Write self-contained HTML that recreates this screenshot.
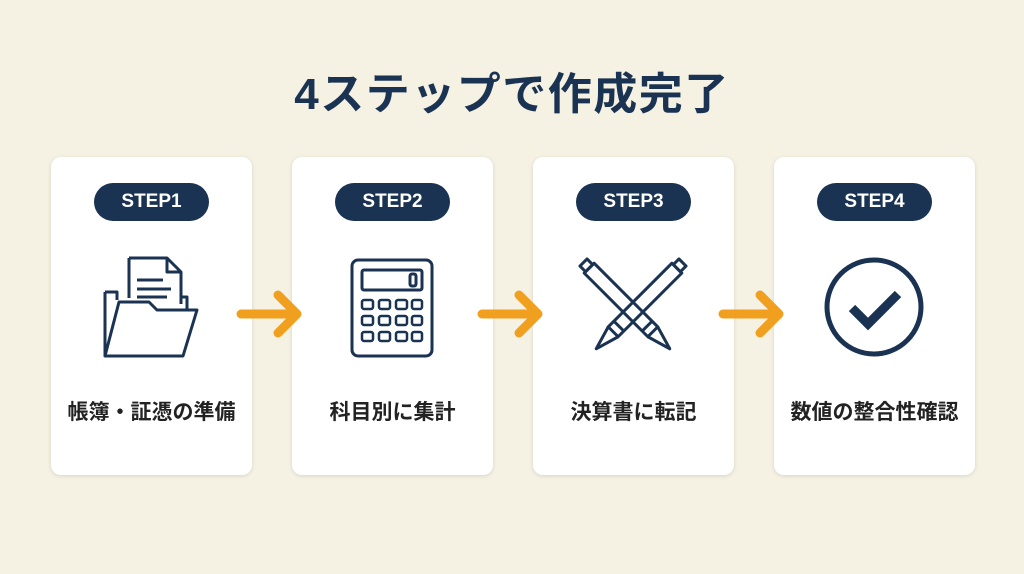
<!DOCTYPE html>
<html><head><meta charset="utf-8"><style>
body{margin:0;width:1024px;height:574px;background:#f5f1e3;font-family:"Liberation Sans","Noto Sans CJK JP",sans-serif;position:relative;overflow:hidden;color:#1d2f45}
.t{position:absolute;left:0;width:1024px;top:58px;text-align:center;font-size:44px;font-weight:bold;color:#1b3352;letter-spacing:1.5px}
.c{position:absolute;top:157px;width:201px;height:318px;background:#fff;border-radius:10px;box-shadow:0 1px 4px rgba(0,0,0,.12)}
.p{position:absolute;left:43px;top:26px;width:115px;height:38px;border-radius:19px;background:#1b3352;color:#fff;font-weight:bold;font-size:19px;line-height:38px;text-align:center}
.l{position:absolute;left:0;width:201px;top:239px;text-align:center;font-size:21px;font-weight:bold;color:#222}
svg.i{position:absolute;left:40px;top:95px}
svg.a{position:absolute;top:290px}
</style></head><body>
<div class="t">4ステップで作成完了</div>
<div class="c" style="left:51px"><div class="p">STEP1</div>
<svg class="i" width="120" height="120" viewBox="0 0 120 120" fill="none" stroke="#1b3352" stroke-width="3" stroke-linejoin="round">
<path d="M14 40h12v8"/><path d="M14 40v64"/><path d="M38 6h38l14 14v32"/><path d="M38 6v40"/><path d="M76 6v14h14"/><path d="M46 28h26M46 37h34M46 45h30"/><path d="M90 45h6v14"/>
<path d="M14 104l14-54h30l8 8h40l-14 46z"/>
</svg>
<div class="l">帳簿・証憑の準備</div></div>
<div class="c" style="left:292px"><div class="p">STEP2</div>
<svg class="i" width="120" height="120" viewBox="0 0 120 120" fill="none" stroke="#1b3352" stroke-width="3">
<rect x="20" y="8" width="80" height="96" rx="6"/><rect x="30" y="18" width="60" height="20" rx="2"/><rect x="78" y="22" width="6" height="12" rx="2"/>
<g stroke-width="2.5"><rect x="30" y="48" width="11" height="9" rx="2"/><rect x="47" y="48" width="11" height="9" rx="2"/><rect x="64" y="48" width="11" height="9" rx="2"/><rect x="80" y="48" width="10" height="9" rx="2"/>
<rect x="30" y="64" width="11" height="9" rx="2"/><rect x="47" y="64" width="11" height="9" rx="2"/><rect x="64" y="64" width="11" height="9" rx="2"/><rect x="80" y="64" width="10" height="9" rx="2"/>
<rect x="30" y="80" width="11" height="9" rx="2"/><rect x="47" y="80" width="11" height="9" rx="2"/><rect x="64" y="80" width="11" height="9" rx="2"/><rect x="80" y="80" width="10" height="9" rx="2"/></g>
</svg>
<div class="l">科目別に集計</div></div>
<div class="c" style="left:533px"><div class="p">STEP3</div>
<svg class="i" width="120" height="120" viewBox="0 0 120 120" fill="none" stroke="#1b3352" stroke-width="3" stroke-linejoin="round">
<g transform="rotate(-45 60 60)"><rect x="53" y="-2" width="14" height="90"/><path d="M53 88l7 24 7-24"/><path d="M53 80h14"/><rect x="55" y="-10" width="10" height="8"/></g>
<g transform="rotate(45 60 60)"><rect x="53" y="-2" width="14" height="90"/><path d="M53 88l7 24 7-24"/><path d="M53 80h14"/><rect x="55" y="-10" width="10" height="8"/></g>
</svg>
<div class="l">決算書に転記</div></div>
<div class="c" style="left:774px"><div class="p">STEP4</div>
<svg class="i" width="120" height="120" viewBox="0 0 120 120" fill="none" stroke="#1b3352">
<circle cx="60" cy="55" r="47" stroke-width="5"/><path d="M38 56l16 16 30-30" stroke-width="9" stroke-linejoin="miter"/>
</svg>
<div class="l">数値の整合性確認</div></div>
<svg class="a" style="left:236px" width="68" height="48" fill="none" stroke="#f0a01e" stroke-width="9" stroke-linecap="round" stroke-linejoin="round"><path d="M5 24h56M42 5l19 19-19 19"/></svg>
<svg class="a" style="left:477px" width="68" height="48" fill="none" stroke="#f0a01e" stroke-width="9" stroke-linecap="round" stroke-linejoin="round"><path d="M5 24h56M42 5l19 19-19 19"/></svg>
<svg class="a" style="left:718px" width="68" height="48" fill="none" stroke="#f0a01e" stroke-width="9" stroke-linecap="round" stroke-linejoin="round"><path d="M5 24h56M42 5l19 19-19 19"/></svg>
</body></html>
